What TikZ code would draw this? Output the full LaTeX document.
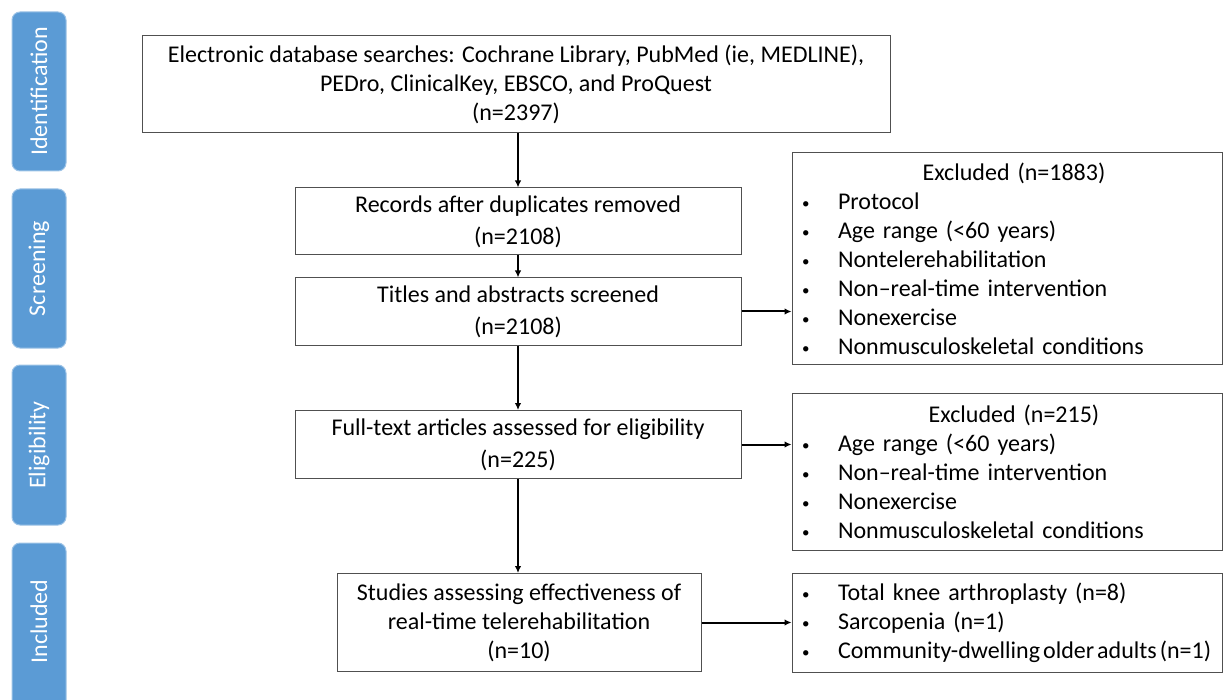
\documentclass[tikz,border=0pt]{standalone}
\usepackage{fontspec}
\setmainfont{Carlito}
\usetikzlibrary{arrows.meta}
\definecolor{tabblue}{HTML}{5B9BD5}
\definecolor{tabedge}{HTML}{9DC3E6}
\definecolor{boxedge}{HTML}{505050}
\tikzset{
  phase/.style={draw=tabedge, line width=1pt, fill=tabblue, rounded corners=8pt,
    minimum width=54pt, inner sep=0pt},
  phasetext/.style={rotate=90, text=white, font=\fontsize{24}{28}\selectfont},
  flowbox/.style={draw=boxedge, line width=1pt, align=center, inner sep=0pt,
    font=\fontsize{24}{29}\selectfont},
  listbox/.style={draw=boxedge, line width=1pt, align=left, inner xsep=8pt, inner ysep=0pt,
    text width=414pt, font=\fontsize{24}{29}\selectfont},
  flow/.style={-{Latex[length=7pt,width=6.5pt]}, line width=2pt},
}
\newcommand{\bul}{\makebox[38pt][l]{\hspace{2pt}\raisebox{1pt}{\fontsize{15}{15}\selectfont•}}}
\newcommand{\heading}[1]{\makebox[414pt]{\hspace{14pt}#1}}
\begin{document}
\begin{tikzpicture}[x=1pt,y=-1pt]
\useasboundingbox (0,0) rectangle (1225,700);
\begin{scope}
\clip (0,0) rectangle (1225,700);
% phase tabs
\node[phase, minimum height=159pt] (tid) at (39,91.5) {};
\node[phasetext] (tidt) at (tid.center) {Identification};
\node[phase, minimum height=159pt] (tsc) at (39,268.5) {};
\node[phasetext] (tsct) at (tsc.center) {Screening};
\node[phase, minimum height=160pt] (tel) at (39,445) {};
\node[phasetext] (telt) at (tel.center) {Eligibility};
\node[phase, minimum height=170pt] (tin) at (39,628) {};
\node[phasetext] (tint) at (39,621.5) {Included};
\end{scope}

% main flow boxes
\node[flowbox, minimum width=748pt, minimum height=97pt] (ident) at (516,84.5)
  {Electronic database searches: Cochrane Library, PubMed (ie, MEDLINE),\\
   PEDro, ClinicalKey, EBSCO, and ProQuest\\ (n=2397)};
\node[flowbox, minimum width=446pt, minimum height=67pt, font=\fontsize{24}{32}\selectfont] (recs) at (518,221.5)
  {Records after duplicates removed\\ (n=2108)};
\node[flowbox, minimum width=446pt, minimum height=67pt, font=\fontsize{24}{32}\selectfont] (titles) at (518,311.5)
  {Titles and abstracts screened\\ (n=2108)};
\node[flowbox, minimum width=446pt, minimum height=68pt, font=\fontsize{24}{32}\selectfont] (full) at (518,444.5)
  {Full-text articles assessed for eligibility\\ (n=225)};
\node[flowbox, minimum width=364pt, minimum height=98pt] (stud) at (519,622.5)
  {Studies assessing effectiveness of\\ real-time telerehabilitation\\ (n=10)};

% side boxes
\node[listbox, minimum height=212pt] (ex1) at (1007,258.5)
  {\heading{Excluded (n=1883)}\\
   \bul Protocol\\
   \bul Age range (<60 years)\\
   \bul Nontelerehabilitation\\
   \bul Non–real-time intervention\\
   \bul Nonexercise\\
   \bul Nonmusculoskeletal conditions};
\node[listbox, minimum height=157pt] (ex2) at (1007,471.5)
  {\heading{Excluded (n=215)}\\
   \bul Age range (<60 years)\\
   \bul Non–real-time intervention\\
   \bul Nonexercise\\
   \bul Nonmusculoskeletal conditions};
\node[listbox, minimum height=99pt] (inc) at (1007,622.5)
  {\bul Total knee arthroplasty (n=8)\\
   \bul Sarcopenia (n=1)\\
   \bul {\spaceskip=3pt Community-dwelling older adults (n=1)}};

% connectors
\draw[flow] (ident.south -| recs.north) -- (recs.north);
\draw[flow] (recs.south) -- (titles.north);
\draw[flow] (titles.south) -- (full.north);
\draw[flow] (full.south) -- (full.south |- stud.north);
\draw[flow] (titles.east) -- (titles.east -| ex1.west);
\draw[flow] (full.east) -- (full.east -| ex2.west);
\draw[flow] (stud.east) -- (stud.east -| inc.west);
\end{tikzpicture}
\end{document}
